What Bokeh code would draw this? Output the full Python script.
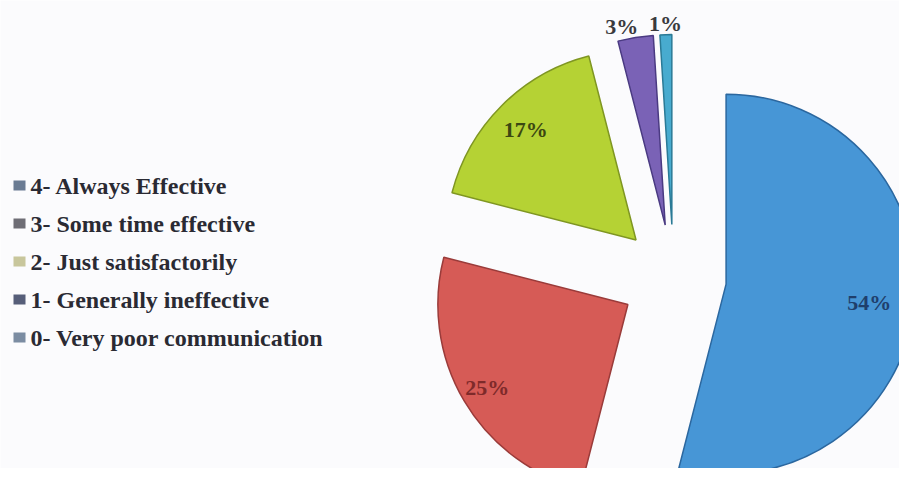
import math
from bokeh.plotting import figure
from bokeh.models import Range1d, ColumnDataSource
from bokeh.core.properties import value
from bokeh.embed import file_html
from bokeh.resources import INLINE

# ---- data ----
categories = ["4- Always Effective", "3- Some time effective", "2- Just satisfactorily",
              "1- Generally ineffective", "0- Very poor communication"]
percentages = [54, 25, 17, 3, 1]
labels = ["54%", "25%", "17%", "3%", "1%"]

# ---- styles ----
fill_colors = ["#4796d6", "#d65b56", "#b5d234", "#7a62b6", "#48abcf"]
line_colors = ["#2b679f", "#9a3b3a", "#7f9622", "#4a3a82", "#2a7a96"]
label_colors = ["#1f3f6c", "#7e2a2a", "#3b4712", "#3a3a3e", "#3a3a3e"]
legend_colors = ["#6a7b93", "#6e6d75", "#c8c69c", "#565e79", "#7b8ca2"]
label_r_factor = [0.76, 0.86, 0.82, 1.06, 1.06]
label_dx = [0, 0, 0, -12, 0]

W, H = 899, 468
p = figure(width=W, height=H, x_range=Range1d(0, 899), y_range=Range1d(16, 484),
           output_backend="svg", toolbar_location=None, min_border=0,
           x_axis_location=None, y_axis_location=None)
p.grid.visible = False
p.outline_line_color = None
p.background_fill_color = "#fbfbfd"
p.border_fill_color = "#fbfbfd"

cx, cy = 673, 207
R = 190
explode = 53

total = float(sum(percentages))
xs, ys, starts, ends, lx, ly = [], [], [], [], [], []
cum = 0.0
for i, v in enumerate(percentages):
    f0 = cum / total
    f1 = (cum + v) / total
    cum += v
    a0 = math.pi / 2 - 2 * math.pi * f0
    a1 = math.pi / 2 - 2 * math.pi * f1
    m = (a0 + a1) / 2
    ax = cx + explode * math.cos(m)
    ay = cy + explode * math.sin(m)
    xs.append(ax); ys.append(ay); starts.append(a0); ends.append(a1)
    lx.append(ax + label_r_factor[i] * R * math.cos(m) + label_dx[i])
    ly.append(ay + label_r_factor[i] * R * math.sin(m))

src = ColumnDataSource(dict(x=xs, y=ys, start=starts, end=ends,
                            fill=fill_colors, line=line_colors))
p.wedge(x="x", y="y", radius=R, start_angle="start", end_angle="end",
        direction="clock", fill_color="fill", line_color="line",
        line_width=1.5, source=src)

lsrc = ColumnDataSource(dict(x=lx, y=ly, text=labels, color=label_colors))
p.text(x="x", y="y", text="text", text_color="color", source=lsrc,
       text_font=value("Liberation Serif"), text_font_style="bold",
       text_font_size="22px", text_align="center", text_baseline="middle")

# ---- legend (manual) ----
row_y = [484 - (185 + 38 * i) for i in range(len(categories))]
p.rect(x=[19] * len(categories), y=row_y, width=12, height=10,
       fill_color=legend_colors, line_color=None)
p.text(x=[30] * len(categories), y=row_y, text=categories,
       text_font=value("Liberation Serif"), text_font_style="bold",
       text_font_size="24px", text_color="#2a2a33",
       text_align="left", text_baseline="middle")

open("out.html", "w").write(file_html(p, INLINE))
